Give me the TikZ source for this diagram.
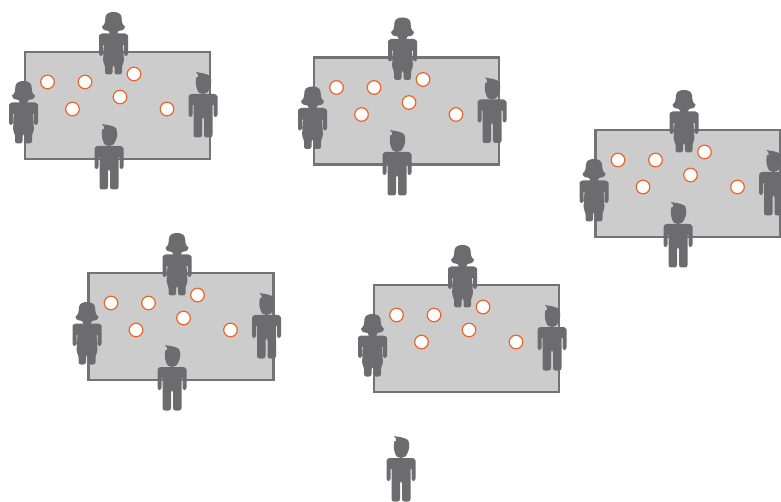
\documentclass[tikz,border=0pt]{standalone}
\definecolor{fig}{RGB}{108,107,109}
\definecolor{edgec}{RGB}{116,114,116}
\definecolor{tablefill}{RGB}{205,204,205}
\definecolor{ringc}{RGB}{236,100,40}
\tikzset{
  x=1pt,y=-1pt,
  tablebox/.style={draw=edgec,line width=2.4pt,fill=tablefill},
  ball/.style={draw=ringc,line width=1.2pt,fill=white},
  man/.pic={
    \fill[fig] (-6.5,5) .. controls (-4,6) and (-4,3) .. (-7,0) .. controls (-3,1) and (3,1) .. (7,4) .. controls (9,8) and (8.5,13) .. (6.5,17) .. controls (5,20.5) and (3,22) .. (0,22) .. controls (-3,22) and (-5,20.5) .. (-6,17) .. controls (-7.5,13) and (-7.5,9) .. (-6.5,5) -- cycle;
    \fill[fig,rounded corners=2.4pt] (-14.5,27) .. controls (-14.5,23) and (-12,22) .. (-9,22) -- (9,22) .. controls (12,22) and (14.5,23) .. (14.5,27) -- (14.5,45) -- (10.5,45) -- (10.5,31) -- (9.5,31) -- (9.5,65.5) -- (1,65.5) -- (1,45) -- (-1,45) -- (-1,65.5) -- (-9.5,65.5) -- (-9.5,31) -- (-10.5,31) -- (-10.5,45) -- (-14.5,45) -- cycle;
  },
  woman/.pic={
    \fill[fig] (-11.5,14.5) .. controls (-8,12.5) and (-8.5,9) .. (-8,5) .. controls (-7.5,1) and (-3,0) .. (0,0) .. controls (3,0) and (7.5,1) .. (8,5) .. controls (8.5,9) and (8,12.5) .. (11.5,14.5) .. controls (11,18) and (8,19) .. (5,19) -- (3,23) -- (-3,23) -- (-5,19) .. controls (-8,19) and (-11,18) .. (-11.5,14.5) -- cycle;
    \fill[fig,rounded corners=2.4pt] (-14.5,26) .. controls (-14.5,23) and (-12,21.5) .. (-9,21.5) -- (9,21.5) .. controls (12,21.5) and (14.5,23) .. (14.5,26) -- (14.5,44) -- (10.5,44) -- (10.5,31) -- (9.5,31) -- (10.5,50) -- (8.5,53) -- (8.5,62.5) -- (1,62.5) -- (1,53) -- (-1,53) -- (-1,62.5) -- (-8.5,62.5) -- (-8.5,53) -- (-10.5,50) -- (-9.5,31) -- (-10.5,31) -- (-10.5,44) -- (-14.5,44) -- cycle;
  }
}
% #1,#2 = shift of the group
\newcommand{\grouptable}[2]{%
  \begin{scope}[shift={(#1,#2)}]
    \draw[tablebox] (25,52) rectangle (210,159);
    \pic at (113.5,12) {woman};
    \pic at (23.5,81) {woman};
    \pic at (203,72) {man};
    \foreach \cx/\cy in {47.5/82,85/82,134/74,120/97,72.5/109,167/109}
      \draw[ball] (\cx,\cy) circle (6.8);
  \end{scope}}
\begin{document}
\begin{tikzpicture}
\useasboundingbox (0,0) rectangle (781,502);
\begin{scope}
\clip (0,0) rectangle (781,502);
\grouptable{0}{0}
\grouptable{289}{5.5}
\grouptable{570.5}{78}
\grouptable{63.5}{221}
\grouptable{349}{233}
\pic at (109,124) {man};
\pic at (397,130) {man};
\pic at (678,202) {man};
\pic at (172,345) {man};
\pic at (401,436) {man};
\end{scope}
\end{tikzpicture}
\end{document}
